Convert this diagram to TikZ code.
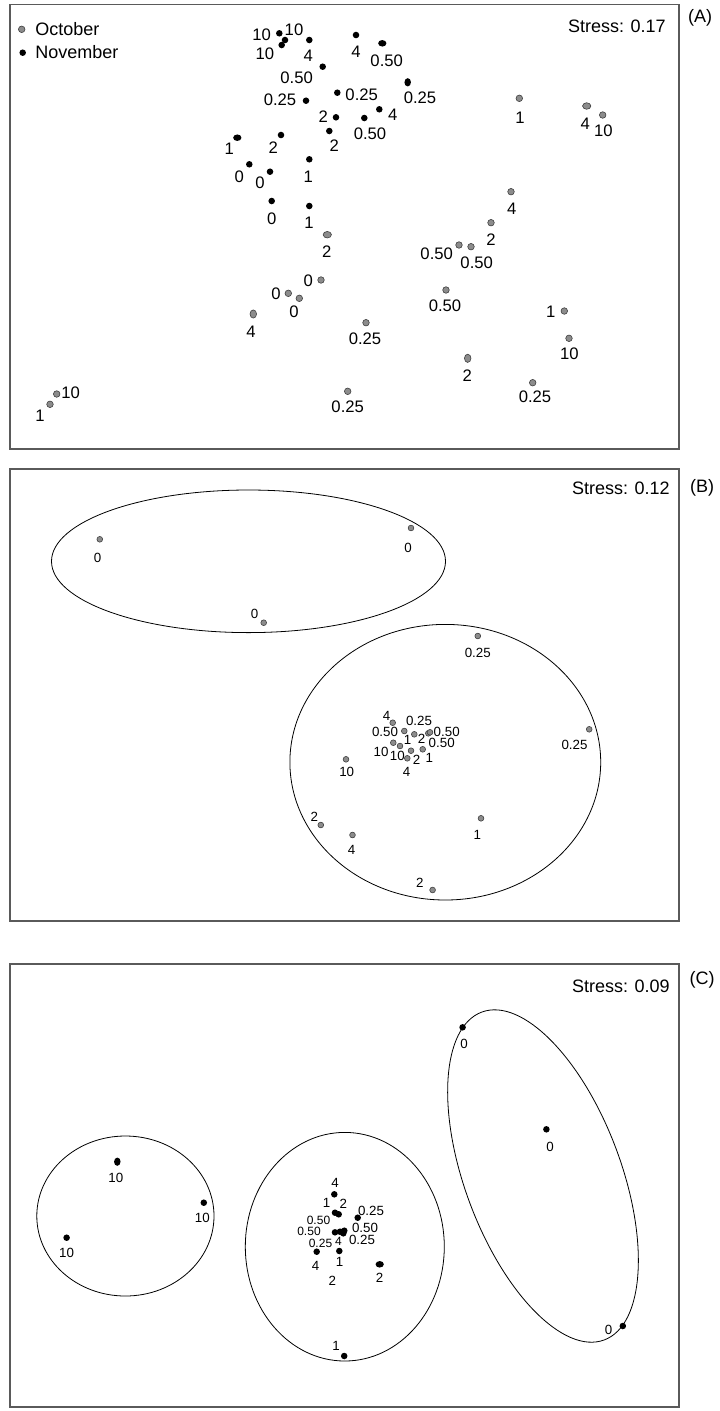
\documentclass[tikz,border=0pt]{standalone}
\usepackage{fontspec}
\setmainfont{Liberation Sans}
\usetikzlibrary{shapes.geometric}
\definecolor{dotgray}{HTML}{8C8C8C}
\definecolor{framegray}{HTML}{5A5A5A}
\begin{document}
\begin{tikzpicture}[x=0.75pt,y=-0.75pt,
  bdot/.style={circle,fill=black,draw=none,inner sep=0pt,minimum size=4.9pt},
  bdoth/.style={ellipse,fill=black,draw=none,inner sep=0pt,minimum width=6.2pt,minimum height=4.9pt},
  bdotv/.style={ellipse,fill=black,draw=none,inner sep=0pt,minimum width=4.9pt,minimum height=6.2pt},
  gdot/.style={circle,fill=dotgray,draw=black!75,line width=0.45pt,inner sep=0pt,minimum size=4.9pt},
  gdoth/.style={ellipse,fill=dotgray,draw=black!75,line width=0.45pt,inner sep=0pt,minimum width=6.2pt,minimum height=4.9pt},
  gdotv/.style={ellipse,fill=dotgray,draw=black!75,line width=0.45pt,inner sep=0pt,minimum width=4.9pt,minimum height=6.2pt},
  gdotB/.style={circle,fill=dotgray,draw=black!75,line width=0.45pt,inner sep=0pt,minimum size=4.3pt},
  la/.style={inner sep=0pt,font=\fontsize{12.5}{12.5}\selectfont},
  lb/.style={inner sep=0pt,font=\fontsize{10}{10}\selectfont},
  lc/.style={inner sep=0pt,font=\fontsize{9}{9}\selectfont},
  frame/.style={draw=framegray,line width=1pt},
  hull/.style={draw=black,line width=0.6pt},
  stress/.style={inner sep=0pt,anchor=east,font=\fontsize{13.5}{13.5}\selectfont},
  plab/.style={inner sep=0pt,font=\fontsize{13.5}{13.5}\selectfont},
  legtext/.style={inner sep=0pt,anchor=west,font=\fontsize{13.5}{13.5}\selectfont}]

\fill[white] (0,0) rectangle (719,1411);
\useasboundingbox (0,0) rectangle (719,1411);

% ================= Panel A =================
\draw[frame] (10,4.5) rectangle (679,449);
\node[stress] (stA) at (666,26.7) {Stress: 0.17};
\node[plab] (pA) at (700,18.3) {(A)};
\node[gdot] (legO) at (21.7,29.3) {};
\node[legtext] (legOt) at (35,29) {October};
\node[bdot] (legN) at (22.7,52.7) {};
\node[legtext] (legNt) at (35,52.5) {November};

% November (black)
\node[bdot] (n1) at (279.3,33.3) {};   \node[la] (ln1) at (261.7,35) {10};
\node[bdot] (n2a) at (285,40) {};
\node[bdot] (n2b) at (281.7,45) {};    \node[la] (ln2a) at (294,30) {10};
                                        \node[la] (ln2b) at (265,53.3) {10};
\node[bdot] (n3) at (309.3,40) {};     \node[la] (ln3) at (308.3,56) {4};
\node[bdot] (n4) at (356,35) {};       \node[la] (ln4) at (356,51.7) {4};
\node[bdoth] (n5) at (382.3,43.3) {};  \node[la] (ln5) at (386.7,60.7) {0.50};
\node[bdot] (n6) at (322.7,66.7) {};   \node[la] (ln6) at (296.7,77.3) {0.50};
\node[bdotv] (n7) at (407.7,82.3) {};  \node[la] (ln7) at (420,97.3) {0.25};
\node[bdot] (n8) at (337.3,92.7) {};   \node[la] (ln8) at (361.7,95) {0.25};
\node[bdot] (n9) at (306,100.7) {};    \node[la] (ln9) at (280,99.3) {0.25};
\node[bdot] (n10) at (379.3,109.3) {}; \node[la] (ln10) at (392.7,114.3) {4};
\node[bdot] (n11) at (364.3,118) {};   \node[la] (ln11) at (370,134) {0.50};
\node[bdot] (n12) at (336,117.3) {};   \node[la] (ln12) at (323.3,116.7) {2};
\node[bdot] (n13) at (329.3,131) {};   \node[la] (ln13) at (334.3,146) {2};
\node[bdot] (n14) at (281,135) {};     \node[la] (ln14) at (273.3,147.3) {2};
\node[bdoth] (n15) at (237.3,137.7) {};\node[la] (ln15) at (229.3,148.3) {1};
\node[bdot] (n16) at (309.3,159.3) {}; \node[la] (ln16) at (308.3,176.7) {1};
\node[bdot] (n17) at (249.3,164.3) {}; \node[la] (ln17) at (239.3,176.7) {0};
\node[bdot] (n18) at (270,171.7) {};   \node[la] (ln18) at (260,182.7) {0};
\node[bdot] (n19) at (271.7,201) {};   \node[la] (ln19) at (271.7,218.3) {0};
\node[bdot] (n20) at (309.3,206) {};   \node[la] (ln20) at (309,223) {1};

% October (gray)
\node[gdot] (o1) at (519.3,98.3) {};   \node[la] (lo1) at (520,117.3) {1};
\node[gdoth] (o2) at (586.7,106) {};   \node[la] (lo2) at (585.3,124) {4};
\node[gdot] (o3) at (602.7,115) {};    \node[la] (lo3) at (603.3,131) {10};
\node[gdot] (o4) at (511,191.7) {};    \node[la] (lo4) at (511.7,208.3) {4};
\node[gdot] (o5) at (491,222.7) {};    \node[la] (lo5) at (491,239.3) {2};
\node[gdot] (o6) at (459,245) {};      \node[la] (lo6) at (436.7,254) {0.50};
\node[gdot] (o7) at (471,246.7) {};    \node[la] (lo7) at (476.7,262.3) {0.50};
\node[gdot] (o8) at (446,290) {};      \node[la] (lo8) at (445,306) {0.50};
\node[gdoth] (o9) at (327.3,234.7) {}; \node[la] (lo9) at (326.7,251.7) {2};
\node[gdot] (o10) at (321,280) {};     \node[la] (lo10) at (308.3,280.7) {0};
\node[gdot] (o11) at (288.3,293.3) {}; \node[la] (lo11) at (276,294) {0};
\node[gdot] (o12) at (299.3,298.3) {}; \node[la] (lo12) at (294,311.7) {0};
\node[gdotv] (o13) at (253.3,314) {};  \node[la] (lo13) at (251,331.7) {4};
\node[gdot] (o14) at (366,322.7) {};   \node[la] (lo14) at (365,339) {0.25};
\node[gdot] (o15) at (564.3,311) {};   \node[la] (lo15) at (550.7,311.7) {1};
\node[gdot] (o16) at (569,338.3) {};   \node[la] (lo16) at (569.3,354) {10};
\node[gdotv] (o17) at (467.7,358.3) {};\node[la] (lo17) at (467.3,375.7) {2};
\node[gdot] (o18) at (532.7,382.7) {}; \node[la] (lo18) at (535,396.7) {0.25};
\node[gdot] (o19) at (347.7,391.3) {}; \node[la] (lo19) at (347.7,406.7) {0.25};
\node[gdot] (o20) at (56.7,394) {};    \node[la] (lo20) at (70.7,392.3) {10};
\node[gdot] (o21) at (50,404.3) {};    \node[la] (lo21) at (40,415.7) {1};

% ================= Panel B =================
\draw[frame] (10,469) rectangle (679,921);
\node[stress] (stB) at (670,488) {Stress: 0.12};
\node[plab] (pB) at (702,488) {(B)};
\draw[hull] (248.5,561.3) ellipse [x radius=197, y radius=71.3];
\draw[hull] (445.3,762.2) ellipse [x radius=155.4, y radius=137.8];

\node[gdotB] (b1) at (99.8,539.3) {};   \node[lb] (lb1) at (97.5,558.3) {0};
\node[gdotB] (b2) at (411,528) {};      \node[lb] (lb2) at (408.2,548.3) {0};
\node[gdotB] (b3) at (263.7,622.7) {};  \node[lb] (lb3) at (254.5,614.3) {0};
\node[gdotB] (b4) at (477.8,636) {};    \node[lb] (lb4) at (477.8,652.7) {0.25};
\node[gdotB] (b5) at (589.2,729.3) {};  \node[lb] (lb5) at (574.5,745) {0.25};
\node[gdotB] (b6) at (392.7,722.7) {};  \node[lb] (lb6) at (386.7,716) {4};
                                         \node[lb] (lb7) at (419,720.7) {0.25};
\node[gdotB] (b8) at (404.3,731) {};    \node[lb] (lb8) at (385,732.3) {0.50};
\node[gdotB] (b9) at (414.3,734.3) {};  \node[lb] (lb9) at (407.7,740) {1};
\node[gdotB] (b10) at (428.3,733.3) {};
\node[gdotB] (b11) at (430,732.3) {};   \node[lb] (lb10) at (421.7,739.3) {2};
                                         \node[lb] (lb11) at (446.7,731.7) {0.50};
                                         \node[lb] (lb12) at (441.7,742.7) {0.50};
\node[gdotB] (b12) at (393.3,742.7) {}; \node[lb] (lb13) at (381,751.7) {10};
\node[gdotB] (b13) at (400,746) {};     \node[lb] (lb14) at (397.3,756) {10};
\node[gdotB] (b14) at (411,750.7) {};   \node[lb] (lb15) at (416.7,760) {2};
\node[gdotB] (b15) at (422.7,749.3) {}; \node[lb] (lb16) at (429.3,757.7) {1};
\node[gdotB] (b16) at (407.3,758.3) {}; \node[lb] (lb17) at (406.7,771.7) {4};
\node[gdotB] (b17) at (346,759.3) {};   \node[lb] (lb18) at (346.7,771.7) {10};
\node[gdotB] (b18) at (320.8,825) {};   \node[lb] (lb19) at (314.3,817.3) {2};
\node[gdotB] (b19) at (352.5,835) {};   \node[lb] (lb20) at (351.6,850) {4};
\node[gdotB] (b20) at (481,818.3) {};   \node[lb] (lb21) at (477.3,835) {1};
\node[gdotB] (b21) at (432.6,890) {};   \node[lb] (lb22) at (419.8,883.3) {2};

% ================= Panel C =================
\draw[frame] (10,964) rectangle (679,1407);
\node[stress] (stC) at (670,986) {Stress: 0.09};
\node[plab] (pC) at (702,980) {(C)};
\draw[hull] (125.4,1216) ellipse [x radius=88.6, y radius=80];
\draw[hull] (344.8,1246.7) ellipse [x radius=99.5, y radius=114.3];
\draw[hull, rotate around={-69.5:(543,1176)}] (543,1176) ellipse [x radius=175, y radius=78];

\node[bdotv] (c1) at (117.3,1161.7) {}; \node[lb] (lc1) at (115.9,1178.3) {10};
\node[bdot] (c2) at (203.8,1202.7) {};  \node[lb] (lc2) at (202.4,1217.7) {10};
\node[bdot] (c3) at (66.6,1237.7) {};   \node[lb] (lc3) at (66.6,1253.3) {10};
\node[bdot] (c4) at (462.6,1027.3) {};  \node[lb] (lc4) at (464,1044) {0};
\node[bdot] (c5) at (546.4,1129.3) {};  \node[lb] (lc5) at (550,1146.7) {0};
\node[bdot] (c6) at (622.8,1326) {};    \node[lb] (lc6) at (608.5,1330) {0};
\node[bdot] (c7) at (334.3,1194.3) {};  \node[lb] (lc7) at (335,1183.3) {4};
\node[bdot] (c8) at (335,1212.7) {};
\node[bdot] (c9) at (338.7,1214.3) {};  \node[lb] (lc8) at (326.7,1203.3) {1};
                                         \node[lb] (lc9) at (343.3,1204.3) {2};
\node[bdot] (c10) at (357.7,1217.7) {}; \node[lb] (lc10) at (371,1211) {0.25};
\node[bdot] (c11) at (335,1232.3) {};
\node[bdot] (c12) at (340,1231.7) {};
\node[bdot] (c13) at (344.3,1230.7) {};
\node[bdot] (c14) at (343.3,1233.3) {};
\node[lc] (lc11) at (318.5,1220.5) {0.50};
\node[lc] (lc12) at (309,1231) {0.50};
\node[lb] (lc13) at (365,1228.3) {0.50};
\node[lb] (lc14) at (362,1240) {0.25};
\node[lc] (lc15) at (320.5,1243.5) {0.25};
\node[lc] (lc16) at (338.5,1241.3) {4};
\node[bdot] (c15) at (316.7,1251.7) {}; \node[lb] (lc17) at (315.7,1266) {4};
\node[bdot] (c16) at (339.3,1251) {};   \node[lb] (lc18) at (339.6,1261.7) {1};
                                         \node[lb] (lc19) at (332.3,1281) {2};
\node[bdoth] (c17) at (379.7,1264.3) {};\node[lb] (lc20) at (379.7,1277.7) {2};
\node[bdot] (c18) at (344.2,1356) {};   \node[lb] (lc21) at (336,1346) {1};
\end{tikzpicture}
\end{document}
